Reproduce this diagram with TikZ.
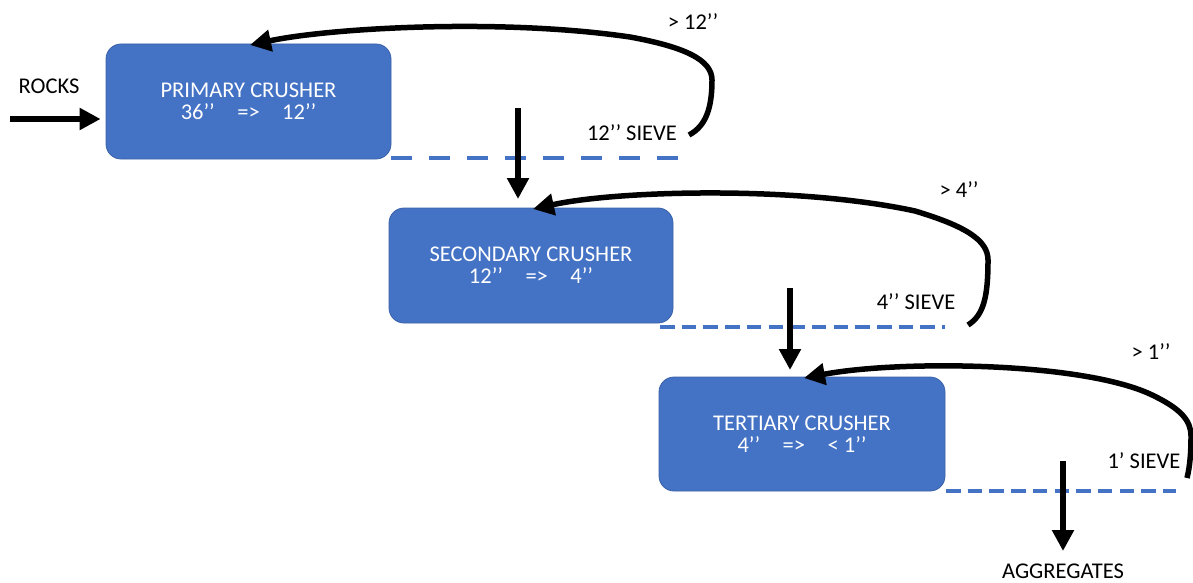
\documentclass[tikz,border=0pt]{standalone}
\usepackage{fontspec}
\setmainfont{Carlito}
\usetikzlibrary{arrows.meta}
\definecolor{boxblue}{HTML}{4472C4}
\definecolor{boxedge}{HTML}{3A62A8}
\newcommand{\dq}{\textquoteright\textquoteright}
\tikzset{
  crusher/.style={draw=boxedge, line width=0.8pt, fill=boxblue, rounded corners=15pt, text=white, align=center, font=\fontsize{22.5}{22}\selectfont, inner sep=0pt},
  lbl/.style={font=\fontsize{22.5}{22}\selectfont, inner sep=0pt},
  flow/.style={line width=5.5pt, -{Triangle[length=21pt,width=21pt]}},
  sieve/.style={draw=boxblue, line width=4pt, dash pattern=on 14.5pt off 7.2pt},
}
\begin{document}
\begin{tikzpicture}[x=1pt,y=-1pt]
\useasboundingbox (0,0) rectangle (1193,583);
% crushers
\node[crusher, minimum width=285pt, minimum height=115pt] (p) at (248.5,101.5) {PRIMARY CRUSHER\\36\dq\quad =>\quad 12\dq};
\node[crusher, minimum width=284pt, minimum height=115pt] (s) at (531,265.5) {SECONDARY CRUSHER\\12\dq\quad =>\quad 4\dq};
\node[crusher, minimum width=286pt, minimum height=114pt] (t) at (802,434) {TERTIARY CRUSHER\\4\dq\quad =>\quad < 1\dq};
% labels
\node[lbl] (rocks) at (49,86) {ROCKS};
\node[lbl] (g12) at (693,22) {> 12\dq};
\node[lbl] (sv12) at (632,133) {12\dq{} SIEVE};
\node[lbl] (g4) at (959,190) {> 4\dq};
\node[lbl] (sv4) at (916,302) {4\dq{} SIEVE};
\node[lbl] (g1) at (1151,352) {> 1\dq};
\node[lbl] (sv1) at (1144,461) {1\textquoteright{} SIEVE};
\node[lbl] (agg) at (1063,571) {AGGREGATES};
% sieves
\coordinate (d1a) at (391,158); \coordinate (d1b) at (678,158);
\coordinate (d2a) at (660,327); \coordinate (d2b) at (945,327);
\coordinate (d3a) at (946,491); \coordinate (d3b) at (1176,491);
\draw[sieve, dash pattern=on 21pt off 17pt] (d1a) -- (d1b);
\draw[sieve] (d2a) -- (d2b);
\draw[sieve] (d3a) -- (d3b);
% feed arrows
\coordinate (rin) at (10,119);
\draw[flow] (rin) -- ([xshift=-5pt]p.west |- rin);
\coordinate (a1s) at (518,108); \coordinate (a1e) at (518,199);
\draw[flow] (a1s) -- (a1e);
\coordinate (a2s) at (790,288); \coordinate (a2e) at (790,370);
\draw[flow] (a2s) -- (a2e);
\coordinate (a3s) at (1063,461); \coordinate (a3e) at (1063,551);
\draw[flow] (a3s) -- (a3e);
% recycle curves
\coordinate (c1s) at (689,135); \coordinate (c1e) at (250,45);
\draw[flow] (c1s) .. controls (706,126) and (712,108) .. (712,80)
  .. controls (712,60) and (685,47) .. (630,37)
  .. controls (500,18) and (330,28) .. (c1e);
\coordinate (c2s) at (968,325); \coordinate (c2e) at (533,209);
\draw[flow] (c2s) .. controls (984,315) and (988,296) .. (988,260)
  .. controls (988,240) and (965,226) .. (915,211)
  .. controls (800,186) and (620,190) .. (c2e);
\coordinate (c3s) at (1187,478); \coordinate (c3e) at (804,378);
\draw[flow] (c3s) .. controls (1190,466) and (1191,452) .. (1191,436)
  .. controls (1191,420) and (1180,408) .. (1150,394)
  .. controls (1080,362) and (900,360) .. (c3e);
\end{tikzpicture}
\end{document}
